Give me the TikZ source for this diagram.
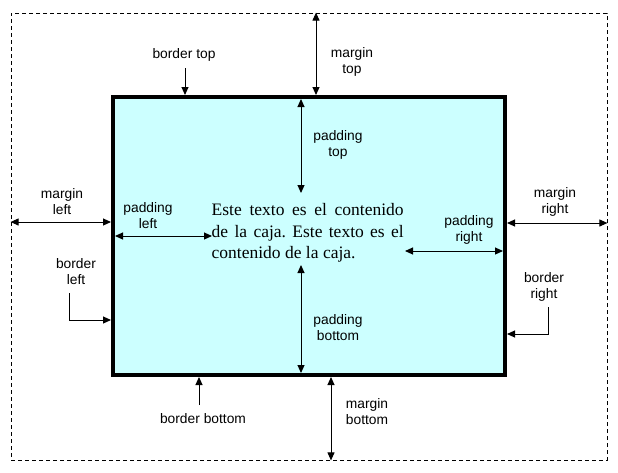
\documentclass[tikz,border=0pt]{standalone}
\usepackage{fontspec}
\setmainfont{Liberation Serif}
\setsansfont{Liberation Sans}
\usetikzlibrary{arrows.meta}
\usetikzlibrary{calc}
\definecolor{cajacian}{RGB}{204,255,255}
\frenchspacing

\begin{document}
\begin{tikzpicture}[x=1pt,y=-1pt,>={Triangle[length=8pt,width=7pt]},
		flecha/.style={line width=1pt},
		etiqueta/.style={font=\fontsize{13.8}{16}\sffamily,align=center,inner sep=0pt}]
		\useasboundingbox (0,0) rectangle (618,472);
		
		% Margin edge
		\node[draw,line width=0.8pt,dash pattern=on 4pt off 3pt,minimum width=596pt,minimum height=447pt,inner sep=0pt] (margen) at (309,236.5) {};
		
		% Box with border
		\node[draw,line width=4pt,fill=cajacian,minimum width=392pt,minimum height=278pt,inner sep=0pt] (caja) at (309,236) {};
		\node[text width=192pt,align=justify,inner sep=0pt,font=\fontsize{17.5}{21.5}\selectfont] (contenido) at (307.7,232.8) {Este texto es el contenido de la caja. Este texto es el contenido de la caja.};
		
		% Labels
		\node[etiqueta] (bordertop) at (184,55) {border top};
		\node[etiqueta] (margintop) at (352,62) {margin\\top};
		\node[etiqueta] (paddingtop) at (338,145) {padding\\top};
		\node[etiqueta] (marginleft) at (62,202) {margin\\left};
		\node[etiqueta] (paddingleft) at (148,216) {padding\\left};
		\node[etiqueta] (marginright) at (555,202) {margin\\right};
		\node[etiqueta] (paddingright) at (469,230) {padding\\right};
		\node[etiqueta] (borderleft) at (76,272) {border\\left};
		\node[etiqueta] (borderright) at (544,287) {border\\right};
		\node[etiqueta] (paddingbottom) at (338,328) {padding\\bottom};
		\node[etiqueta] (marginbottom) at (367,412) {margin\\bottom};
		\node[etiqueta] (borderbottom) at (203,419) {border bottom};
		
		% Free ends
		\coordinate (mt) at (316,0);
		\coordinate (mb) at (331,0);
		\coordinate (ml) at (0,222);
		\coordinate (mr) at (0,223);
		\coordinate (pt1) at (301,99);
		\coordinate (pt2) at (301,193);
		\coordinate (pb1) at (301,265);
		\coordinate (pb2) at (301,373);
		\coordinate (pl1) at (115,236);
		\coordinate (pl2) at (212,236);
		\coordinate (pr1) at (405,251);
		\coordinate (pr2) at (503,251);
		\coordinate (bt) at (185,68);
		\coordinate (bb) at (199,405);
		\coordinate (bl) at (69,293);
		\coordinate (br) at (548,307);
		
		% Margin arrows
		\draw[flecha,<->] (margen.north -| mt) -- (caja.north -| mt);
		\draw[flecha,<->] (caja.south -| mb) -- (margen.south -| mb);
		\draw[flecha,<->] (margen.west |- ml) -- (caja.west |- ml);
		\draw[flecha,<->] (caja.east |- mr) -- (margen.east |- mr);
		
		% Padding arrows
		\draw[flecha,<->] (pt1) -- (pt2);
		\draw[flecha,<->] (pb1) -- (pb2);
		\draw[flecha,<->] (pl1) -- (pl2);
		\draw[flecha,<->] (pr1) -- (pr2);
		
		% Border arrows
		\draw[flecha,->] (bt) -- (caja.north -| bt);
		\draw[flecha,->] (bb) -- (caja.south -| bb);
		\draw[flecha,->] (bl) |- (caja.west |- 0,320);
		\draw[flecha,->] (br) |- (caja.east |- 0,334);
	\end{tikzpicture}
\end{document}
